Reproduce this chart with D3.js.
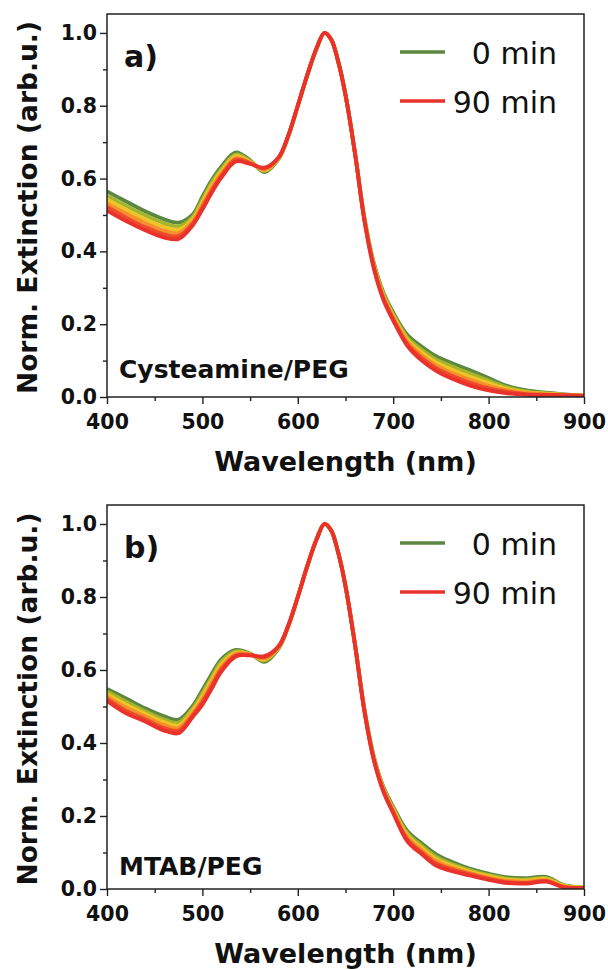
<!DOCTYPE html>
<html>
<head>
<meta charset="utf-8">
<script src="https://cdn.jsdelivr.net/npm/d3@7"></script>
<style>
    body { margin: 0; background: #fff; }
</style>
</head>
<body>
<div id="chart"></div>
<script>
// wavelength grid (nm) shared by every spectrum
const wavelength = [400, 420, 440, 460, 475, 490, 500, 510, 520, 535, 550, 565, 580, 590, 600, 610, 620, 628, 635, 642,
    650, 660, 670, 680, 690, 700, 715, 730, 745, 760, 780, 800, 820, 840, 860, 880, 900];

// incubation time of each spectrum (min) and its colour
const times = [0, 18, 36, 54, 72, 90];
const timeColors = ["#5b8741", "#a4b52c", "#efc427", "#f5902a", "#ef4a2b", "#e9322b"];

// a) Cysteamine/PEG, one row per time
const cysteaminePEG = [
    [.565, .537, .510, .488, .479, .502, .550, .597, .633, .672, .650, .618, .654, .716, .800, .885, .960, 1.0, .982, .925, .830, .670, .490, .365, .285, .232, .170, .138, .112, .095, .074, .052, .030, .018, .012, .007, .004],
    [.553, .525, .499, .477, .469, .495, .542, .589, .626, .666, .648, .621, .655, .716, .800, .885, .960, 1.0, .982, .925, .830, .670, .488, .362, .281, .227, .163, .130, .103, .086, .065, .045, .026, .015, .010, .006, .004],
    [.543, .514, .488, .467, .460, .489, .535, .582, .620, .661, .646, .623, .656, .717, .800, .885, .960, 1.0, .982, .925, .830, .669, .487, .359, .277, .223, .157, .122, .095, .077, .056, .038, .022, .013, .009, .006, .004],
    [.532, .504, .478, .457, .451, .483, .528, .575, .614, .656, .644, .625, .657, .717, .800, .885, .960, 1.0, .982, .925, .830, .669, .485, .356, .273, .218, .151, .114, .087, .068, .048, .031, .018, .011, .008, .005, .003],
    [.522, .493, .467, .447, .442, .477, .521, .568, .608, .652, .642, .628, .658, .718, .800, .885, .960, 1.0, .982, .925, .830, .668, .483, .353, .269, .214, .145, .107, .079, .060, .040, .024, .014, .008, .006, .005, .003],
    [.512, .483, .458, .438, .434, .472, .515, .562, .603, .647, .640, .630, .659, .718, .800, .885, .960, 1.0, .982, .925, .830, .668, .482, .350, .265, .210, .140, .100, .072, .052, .032, .018, .010, .006, .005, .004, .003]
];

// b) MTAB/PEG, one row per time
const mtabPEG = [
    [.548, .522, .495, .473, .464, .502, .545, .590, .630, .655, .645, .622, .659, .719, .800, .885, .960, 1.0, .982, .925, .830, .670, .490, .360, .278, .225, .158, .125, .095, .076, .056, .042, .032, .030, .033, .010, .004],
    [.541, .513, .487, .464, .456, .495, .536, .581, .623, .651, .644, .626, .661, .720, .800, .885, .960, 1.0, .982, .925, .830, .670, .489, .358, .275, .221, .152, .118, .088, .070, .052, .038, .028, .026, .030, .009, .004],
    [.534, .505, .480, .457, .448, .489, .528, .573, .616, .647, .643, .629, .662, .720, .800, .885, .960, 1.0, .982, .925, .830, .669, .487, .356, .273, .218, .146, .112, .082, .065, .048, .035, .025, .023, .027, .008, .004],
    [.528, .497, .473, .449, .441, .483, .520, .565, .609, .644, .642, .632, .663, .721, .800, .885, .960, 1.0, .982, .925, .830, .669, .486, .354, .270, .214, .141, .106, .076, .060, .044, .031, .022, .020, .024, .006, .003],
    [.521, .488, .465, .441, .434, .477, .512, .557, .602, .640, .641, .635, .665, .721, .800, .885, .960, 1.0, .982, .925, .830, .668, .485, .352, .267, .211, .135, .100, .070, .055, .041, .028, .019, .017, .022, .005, .003],
    [.515, .481, .459, .434, .427, .472, .505, .550, .596, .637, .640, .638, .666, .722, .800, .885, .960, 1.0, .982, .925, .830, .668, .484, .350, .265, .208, .130, .095, .064, .050, .037, .025, .016, .015, .020, .004, .003]
];

const xTicks = [400, 500, 600, 700, 800, 900];
const xMinorTicks = [450, 550, 650, 750, 850];
const yTicks = [0.0, 0.2, 0.4, 0.6, 0.8, 1.0];
const yMinorTicks = [0.1, 0.3, 0.5, 0.7, 0.9];
const legendItems = ["0 min", "90 min"];

var width = 608,
    height = 970;
var font = "'DejaVu Sans', sans-serif";

var svg = d3.select("#chart").append("svg")
    .attr("width", width)
    .attr("height", height);

var plotLeft = 107,
    plotRight = 584;

let xScale = d3.scaleLinear()
    .domain([400, 900])
    .range([plotLeft, plotRight]);

function DrawPanel(top, bottom, spectra, tag, sample, sampleY, id) {
    let g = svg.append("g");
    let yScale = d3.scaleLinear()
        .domain([0, 1.052])
        .range([bottom, top]);

    g.append("clipPath").attr("id", "clip" + id)
        .append("rect")
        .attr("x", plotLeft).attr("y", top)
        .attr("width", plotRight - plotLeft).attr("height", bottom - top);

    let line_generator = d3.line()
        .x(function (d, i) { return xScale(wavelength[i]); })
        .y(function (d) { return yScale(d); })
        .curve(d3.curveCatmullRom.alpha(0.5));

    // 0 min first, 90 min last on top
    let curves = g.append("g").attr("clip-path", "url(#clip" + id + ")");
    for (let k in spectra) {
        curves.append("path")
            .attr("d", line_generator(spectra[k]))
            .attr("fill", "none")
            .attr("stroke", timeColors[k])
            .attr("stroke-width", 3.8)
            .attr("stroke-linejoin", "round");
    }

    // axes
    g.append("g")
        .attr("transform", "translate(0," + bottom + ")")
        .call(d3.axisBottom(xScale).tickValues(xTicks).tickSize(7).tickPadding(10).tickFormat(d3.format("d")));
    g.append("g")
        .attr("transform", "translate(0," + bottom + ")")
        .call(d3.axisBottom(xScale).tickValues(xMinorTicks).tickSize(4).tickFormat(""));
    g.append("g")
        .attr("transform", "translate(" + plotLeft + ",0)")
        .call(d3.axisLeft(yScale).tickValues(yTicks).tickSize(7).tickPadding(3).tickFormat(d3.format(".1f")));
    g.append("g")
        .attr("transform", "translate(" + plotLeft + ",0)")
        .call(d3.axisLeft(yScale).tickValues(yMinorTicks).tickSize(4).tickFormat(""));

    g.selectAll(".domain").remove();
    g.selectAll(".tick line").attr("stroke", "#222").attr("stroke-width", 1.4);
    g.selectAll(".tick text")
        .attr("font-family", font)
        .attr("font-weight", "bold")
        .attr("font-size", 20.5)
        .attr("fill", "#111");

    // frame
    g.append("rect")
        .attr("x", plotLeft).attr("y", top)
        .attr("width", plotRight - plotLeft).attr("height", bottom - top)
        .attr("fill", "none")
        .attr("stroke", "#222")
        .attr("stroke-width", 1.5);

    // axis titles
    g.append("text")
        .attr("x", (plotLeft + plotRight) / 2)
        .attr("y", bottom + 74)
        .attr("text-anchor", "middle")
        .attr("font-family", font)
        .attr("font-weight", "bold")
        .attr("font-size", 27)
        .attr("fill", "#111")
        .text("Wavelength (nm)");
    g.append("text")
        .attr("transform", "translate(37," + ((top + bottom) / 2 + 2) + ") rotate(-90)")
        .attr("text-anchor", "middle")
        .attr("font-family", font)
        .attr("font-weight", "bold")
        .attr("font-size", 26.5)
        .attr("fill", "#111")
        .text("Norm. Extinction (arb.u.)");

    // panel tag and sample name
    g.append("text")
        .attr("x", plotLeft + 17)
        .attr("y", top + 53)
        .attr("font-family", font)
        .attr("font-weight", "bold")
        .attr("font-size", 30)
        .attr("fill", "#111")
        .text(tag);
    g.append("text")
        .attr("x", plotLeft + 12)
        .attr("y", sampleY)
        .attr("font-family", font)
        .attr("font-weight", "bold")
        .attr("font-size", 25)
        .attr("fill", "#111")
        .text(sample);

    // legend
    let legendColors = [timeColors[0], timeColors[timeColors.length - 1]];
    for (let i in legendItems) {
        let ly = top + 38 + i * 49;
        g.append("line")
            .attr("x1", 400).attr("x2", 445)
            .attr("y1", ly).attr("y2", ly)
            .attr("stroke", legendColors[i])
            .attr("stroke-width", 3.5);
        g.append("text")
            .attr("x", 557)
            .attr("y", ly + 12)
            .attr("text-anchor", "end")
            .attr("font-family", font)
            .attr("font-size", 30)
            .attr("fill", "#111")
            .text(legendItems[i]);
    }
}

DrawPanel(14, 397, cysteaminePEG, "a)", "Cysteamine/PEG", 378, "a");
DrawPanel(505, 889, mtabPEG, "b)", "MTAB/PEG", 875, "b");
</script>
</body>
</html>
